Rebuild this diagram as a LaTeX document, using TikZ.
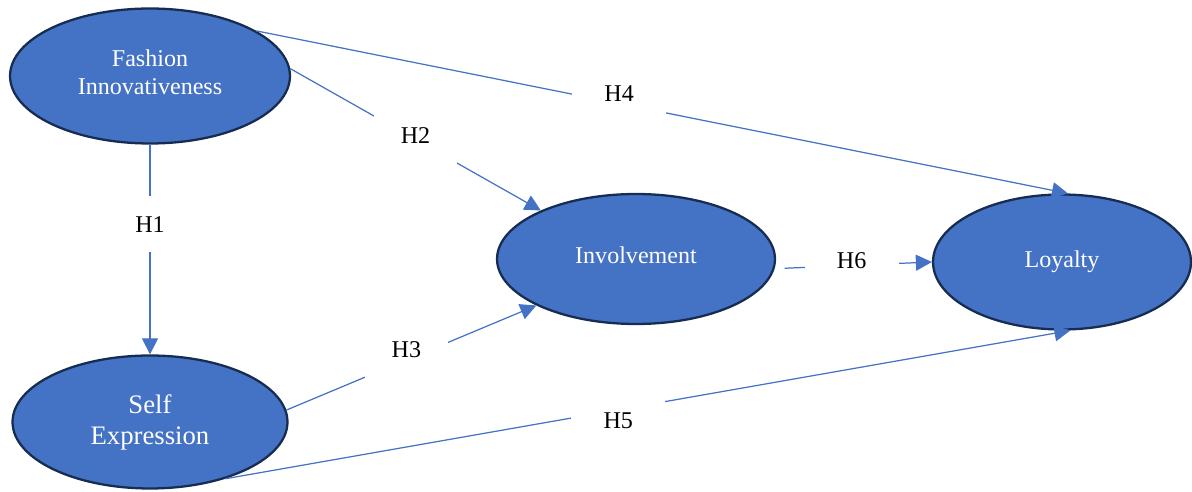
\documentclass[tikz,border=0pt]{standalone}
\usepackage{fontspec}
\setmainfont{Liberation Serif}
\usepackage{tikz}
\usetikzlibrary{shapes.geometric}
\usetikzlibrary{arrows.meta}
\definecolor{mblue}{HTML}{4472C4}
\definecolor{mnavy}{HTML}{172C51}
\tikzset{construct/.style = {ellipse, draw=mnavy, line width=1.3pt, fill=mblue,
                             text=white, inner sep=0pt, align=center,
                             font=\fontsize{13.7}{15.8}\selectfont}}
\tikzset{hyp/.style = {fill=white, inner sep=0pt, minimum width=1.88cm,
                       minimum height=1.12cm, font=\fontsize{13.7}{16}\selectfont}}
\tikzset{link/.style = {draw=mblue, line width=0.7pt,
                        -{Triangle[length=0.32cm, width=0.32cm]}}}
\tikzset{liftup/.style = {text depth=#1}}
\tikzset{dropdown/.style = {text height=#1}}

\begin{document}
\begin{tikzpicture}[x=0.02cm, y=-0.02cm]
  \useasboundingbox (0,0) rectangle (1192,492);
  % constructs
  \node[construct, minimum width=5.6cm, minimum height=2.7cm, liftup=0.16cm] (fash) at (150,76)
    {Fashion\\Innovativeness};
  \node[construct, minimum width=5.5cm, minimum height=2.66cm,
        font=\fontsize{15.2}{17.6}\selectfont] (self) at (150,422)
    {Self\\Expression};
  \node[construct, minimum width=5.56cm, minimum height=2.6cm, liftup=0.16cm] (inv) at (636,259)
    {Involvement};
  \node[construct, minimum width=5.16cm, minimum height=2.7cm] (loy) at (1062,262)
    {Loyalty};
  % hypotheses
  \draw[link] (fash.south) -- node[hyp, pos=0.38] (h1) {H1} (self.north);
  \draw[link] (fash.3) -- node[hyp, pos=0.5, minimum width=1.66cm, liftup=0.16cm] (h2) {H2} (inv.153);
  \draw[link] (self.5) -- node[hyp, pos=0.48, minimum width=1.66cm, liftup=0.4cm] (h3) {H3} (inv.205);
  \draw[link] (fash.23) -- node[hyp, pos=0.447, liftup=0.4cm] (h4) {H4} (loy.85);
  \draw[link] (self.-37) -- node[hyp, pos=0.465, dropdown=0.76cm] (h5) {H5} (loy.-83);
  \draw[link, shorten <=0.2cm] (inv.-4) -- node[hyp, pos=0.49, liftup=0.2cm] (h6) {H6} (loy.180);
\end{tikzpicture}
\end{document}
